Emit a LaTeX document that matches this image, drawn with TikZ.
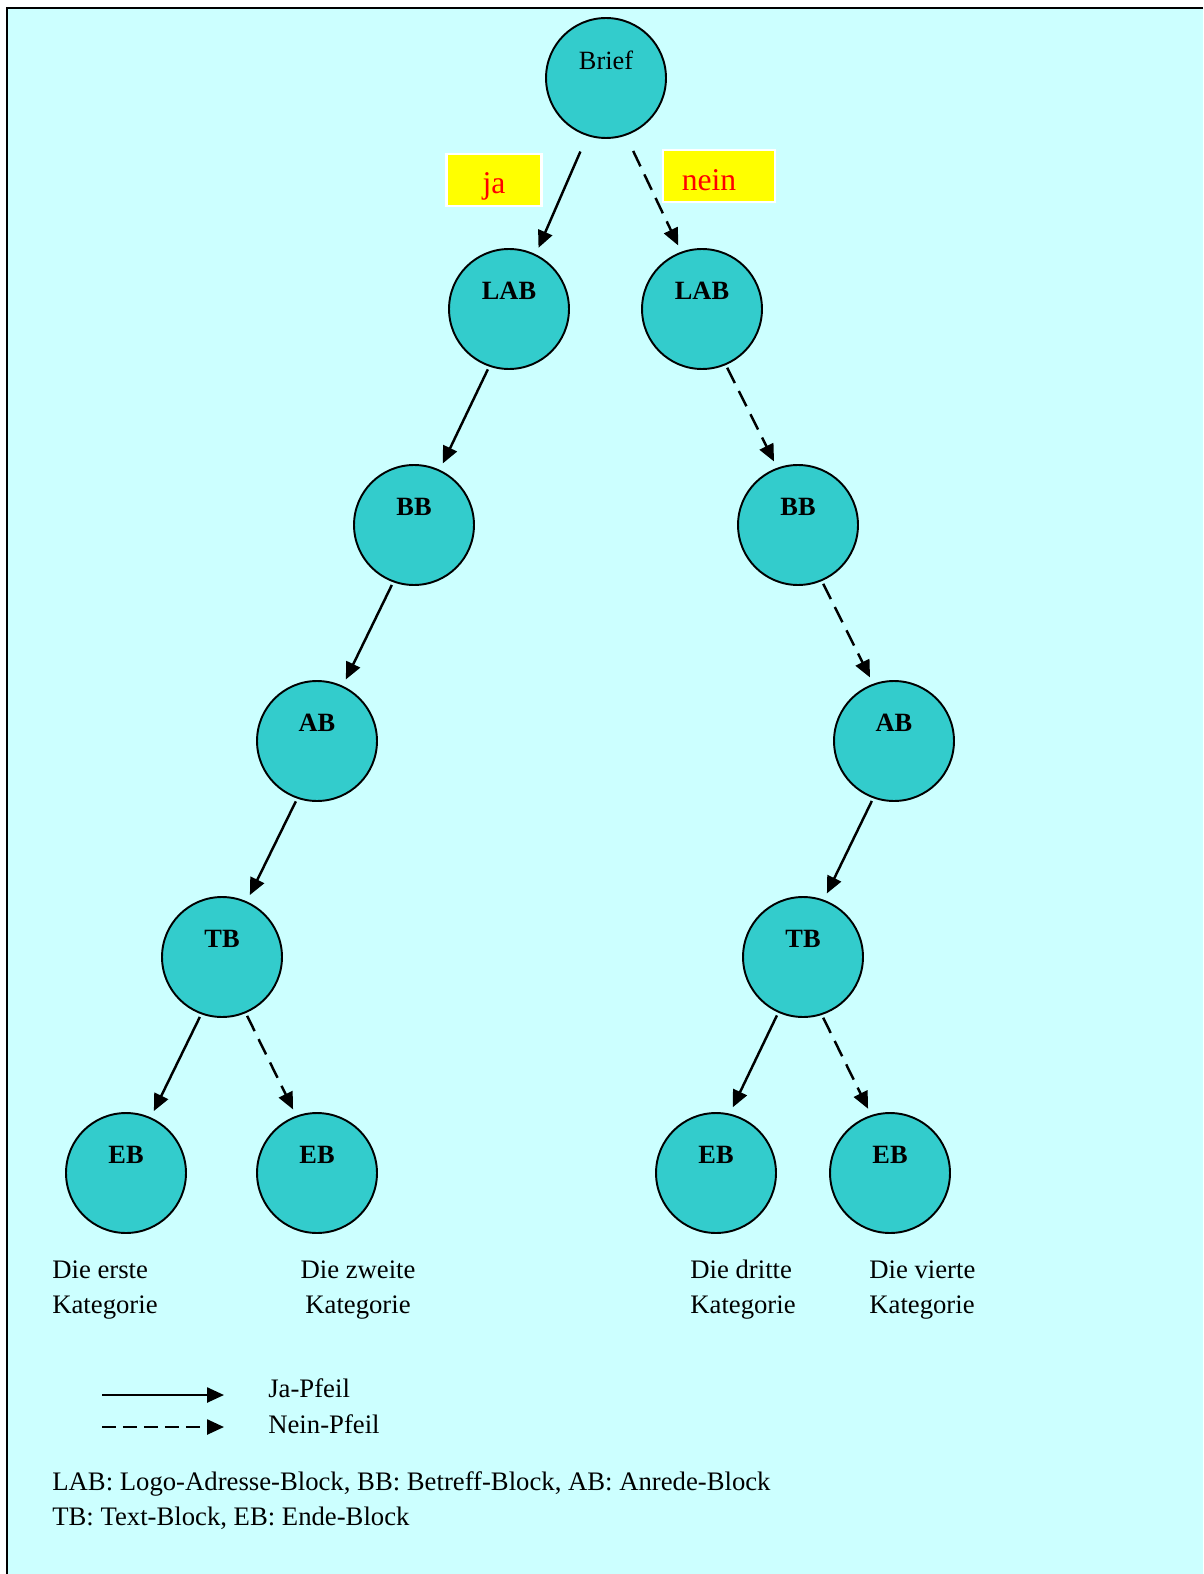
\documentclass[tikz,border=0pt]{standalone}
\usepackage{fontspec}
\setmainfont{Liberation Serif}
\definecolor{bgcyan}{RGB}{204,255,255}
\definecolor{nodeteal}{RGB}{51,204,204}
\definecolor{tagyellow}{RGB}{255,255,0}
\definecolor{tagred}{RGB}{255,0,0}
\usetikzlibrary{arrows.meta,positioning}

\begin{document}
\begin{tikzpicture}[x=0.02cm, y=-0.02cm,
  block/.style={
    circle, draw=black, line width=1.1pt,
    fill=nodeteal, minimum size=2.4cm, inner sep=0pt,
    label={[font=\fontsize{15}{18}\selectfont\bfseries, yshift=0.36cm]center:#1}
  },
  root/.style={
    circle, draw=black, line width=1.1pt,
    fill=nodeteal, minimum size=2.4cm, inner sep=0pt,
    label={[font=\fontsize{15}{18}\selectfont, yshift=0.36cm]center:#1}
  },
  tag/.style={
    rectangle, draw=white, line width=1.2pt, fill=tagyellow, inner sep=0pt
  },
  tagtext/.style={text=tagred, font=\fontsize{18}{20}\selectfont, inner sep=0pt},
  txt/.style={font=\fontsize{15.2}{20}\selectfont, align=left, inner sep=0pt},
  jaarrow/.style={-{Triangle[length=0.34cm,width=0.3cm]}, line width=1.4pt,
    shorten <=0.06cm, shorten >=0.14cm},
  neinarrow/.style={jaarrow, dash pattern=on 0.34cm off 0.18cm}
]
\useasboundingbox (0,0) rectangle (1203,1574);
\fill[bgcyan] (7,8) rectangle (1203,1574);
\draw[line width=1.6pt] (1203,8) -- (7,8) -- (7,1574);

% Tree
\node[root=Brief] (brief) at (606,78) {};
\node[block=LAB] (labl) at (509,309) {};
\node[block=LAB] (labr) at (702,309) {};
\node[block=BB] (bbl) at (414,525) {};
\node[block=BB] (bbr) at (798,525) {};
\node[block=AB] (abl) at (317,741) {};
\node[block=AB] (abr) at (894,741) {};
\node[block=TB] (tbl) at (222,957) {};
\node[block=TB] (tbr) at (803,957) {};
\node[block=EB] (eb1) at (126,1173) {};
\node[block=EB] (eb2) at (317,1173) {};
\node[block=EB] (eb3) at (716,1173) {};
\node[block=EB] (eb4) at (890,1173) {};

% Yes / no tags
\node[tag, minimum width=1.9cm, minimum height=1.04cm,
  label={[tagtext, yshift=-0.12cm]center:ja}] (ja) at (494,180) {};
\node[tag, minimum width=2.24cm, minimum height=1.04cm,
  label={[tagtext, yshift=-0.08cm, xshift=-0.2cm]center:nein}] (nein) at (719,176) {};

% Arrows
\draw[jaarrow, shorten <=0.34cm] (brief.-108) -- (labl.64);
\draw[neinarrow, shorten <=0.34cm] (brief.-71) -- (labr.110);
\draw[jaarrow] (labl.-109) -- (bbl.65);
\draw[neinarrow] (labr.-67) -- (bbr.110);
\draw[jaarrow] (bbl.-110) -- (abl.65);
\draw[neinarrow] (bbr.-67) -- (abr.110);
\draw[jaarrow] (abl.-109) -- (tbl.66);
\draw[jaarrow] (abr.-110) -- (tbr.70);
\draw[jaarrow] (tbl.-110) -- (eb1.66);
\draw[neinarrow] (tbl.-67) -- (eb2.110);
\draw[jaarrow] (tbr.-114) -- (eb3.77);
\draw[neinarrow] (tbr.-72) -- (eb4.108);

% Categories
\node[txt, anchor=west] (cat1) at (52,1290) {Die erste\\Kategorie};
\node[txt, align=center] (cat2) at (358,1290) {Die zweite\\Kategorie};
\node[txt, anchor=west] (cat3) at (690,1290) {Die dritte\\Kategorie};
\node[txt, anchor=west] (cat4) at (869,1290) {Die vierte\\Kategorie};

% Legend
\coordinate (jaA) at (102,1395);
\coordinate (jaB) at (224,1395);
\coordinate (neinA) at (102,1427);
\coordinate (neinB) at (224,1427);
\draw[jaarrow, shorten <=0pt, shorten >=0pt] (jaA) -- (jaB);
\draw[neinarrow, shorten <=0pt, shorten >=0pt, dash pattern=on 0.28cm off 0.14cm] (neinA) -- (neinB);
\node[txt, anchor=west] (jatxt) at (268,1388) {Ja-Pfeil};
\node[txt, anchor=west] (neintxt) at (268,1424) {Nein-Pfeil};

\node[txt, anchor=west] (abbr) at (52,1501)
  {LAB: Logo-Adresse-Block, BB: Betreff-Block, AB: Anrede-Block\\TB: Text-Block, EB: Ende-Block};
\end{tikzpicture}
\end{document}
